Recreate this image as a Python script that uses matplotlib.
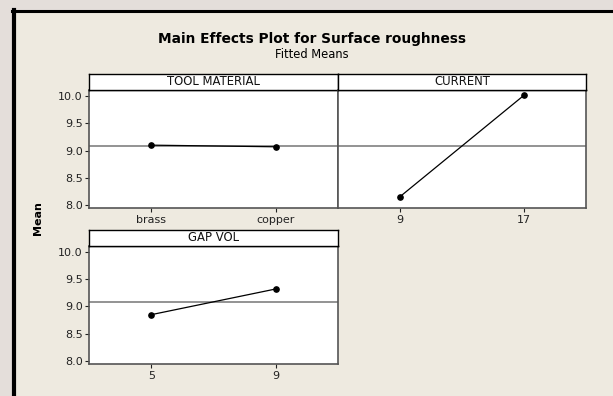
import matplotlib
matplotlib.use("Agg")
import matplotlib.pyplot as plt
from matplotlib.patches import Rectangle
from matplotlib.lines import Line2D
import numpy as np

# ---- data ----
factors = ["TOOL MATERIAL", "CURRENT", "GAP VOL"]
tool_levels = ["brass", "copper"]
tool_means = [9.10, 9.07]
current_levels = ["9", "17"]
current_means = [8.16, 10.01]
gap_levels = ["5", "9"]
gap_means = [8.85, 9.32]
y_ticks = [8.0, 8.5, 9.0, 9.5, 10.0]

grand_mean = np.mean(tool_means)

W, H = 613, 396
fig = plt.figure(figsize=(W / 100, H / 100), dpi=100)
fig.patch.set_facecolor("#EEEAE0")

def fx(px):
    return px / W

def fy(py):
    return 1 - py / H

# outside-frame area and frame
fig.add_artist(Rectangle((0, 0), fx(12), 1, transform=fig.transFigure,
                         facecolor="#E4DEDA", edgecolor="none", zorder=0))
fig.add_artist(Rectangle((0, fy(9.5)), 1, 1 - fy(9.5), transform=fig.transFigure,
                         facecolor="#E4DEDA", edgecolor="none", zorder=0))
fig.add_artist(Line2D([fx(13.5), fx(13.5)], [0, fy(9.5)], transform=fig.transFigure,
                      color="black", lw=3.0, zorder=5))
fig.add_artist(Line2D([fx(12), 1], [fy(10.5), fy(10.5)], transform=fig.transFigure,
                      color="black", lw=2.2, zorder=5))

fig.text(fx(312), fy(39), "Main Effects Plot for Surface roughness",
         ha="center", va="center", fontsize=9.9, fontweight="bold", family="DejaVu Sans")
fig.text(fx(312), fy(55), "Fitted Means", ha="center", va="center",
         fontsize=8.3, family="DejaVu Sans")

panels = [
    (factors[0], tool_levels, tool_means, 89, 338, 73.5, 89.5, 208.3, True),
    (factors[1], current_levels, current_means, 338, 586, 73.5, 89.5, 208.3, False),
    (factors[2], gap_levels, gap_means, 89, 338, 230, 245.5, 364, True),
]

ylim = (7.948, 10.115)

for name, levels, means, x0, x1, hy0, hy1, yb, show_y in panels:
    ax = fig.add_axes([fx(x0), fy(yb), fx(x1) - fx(x0), fy(hy1) - fy(yb)])
    ax.set_facecolor("white")
    xs = np.arange(len(levels))
    ax.axhline(grand_mean, color="#8A8A8A", lw=1.3, zorder=1)
    ax.plot(xs, means, color="black", lw=0.9, marker="o", markersize=3.8, zorder=3)
    ax.set_xlim(-0.5, len(levels) - 0.5)
    ax.set_ylim(*ylim)
    ax.set_xticks(xs)
    ax.set_xticklabels(levels)
    ax.set_yticks(y_ticks)
    if show_y:
        ax.set_yticklabels([f"{v:.1f}" for v in y_ticks])
        ax.tick_params(axis="y", length=3, width=0.8, pad=1.5, labelsize=8, colors="#222222")
    else:
        ax.tick_params(axis="y", left=False, labelleft=False)
    ax.tick_params(axis="x", length=3, width=0.8, pad=2, labelsize=8, colors="#222222")
    for s in ax.spines.values():
        s.set_color("#555555")
        s.set_linewidth(1.2)
    ax.spines["top"].set_color("black")
    ax.spines["top"].set_linewidth(1.0)

    hax = fig.add_axes([fx(x0), fy(hy1), fx(x1) - fx(x0), fy(hy0) - fy(hy1)])
    hax.set_facecolor("white")
    hax.set_xticks([])
    hax.set_yticks([])
    for s in hax.spines.values():
        s.set_color("black")
        s.set_linewidth(1.0)
    hax.text(0.5, 0.5, name, ha="center", va="center", fontsize=8.4,
             transform=hax.transAxes, color="#111111")

fig.text(fx(38), fy(218), "Mean", rotation=90, ha="center", va="center",
         fontsize=8, fontweight="bold")

fig.savefig("out.png", dpi=100, facecolor=fig.get_facecolor())
